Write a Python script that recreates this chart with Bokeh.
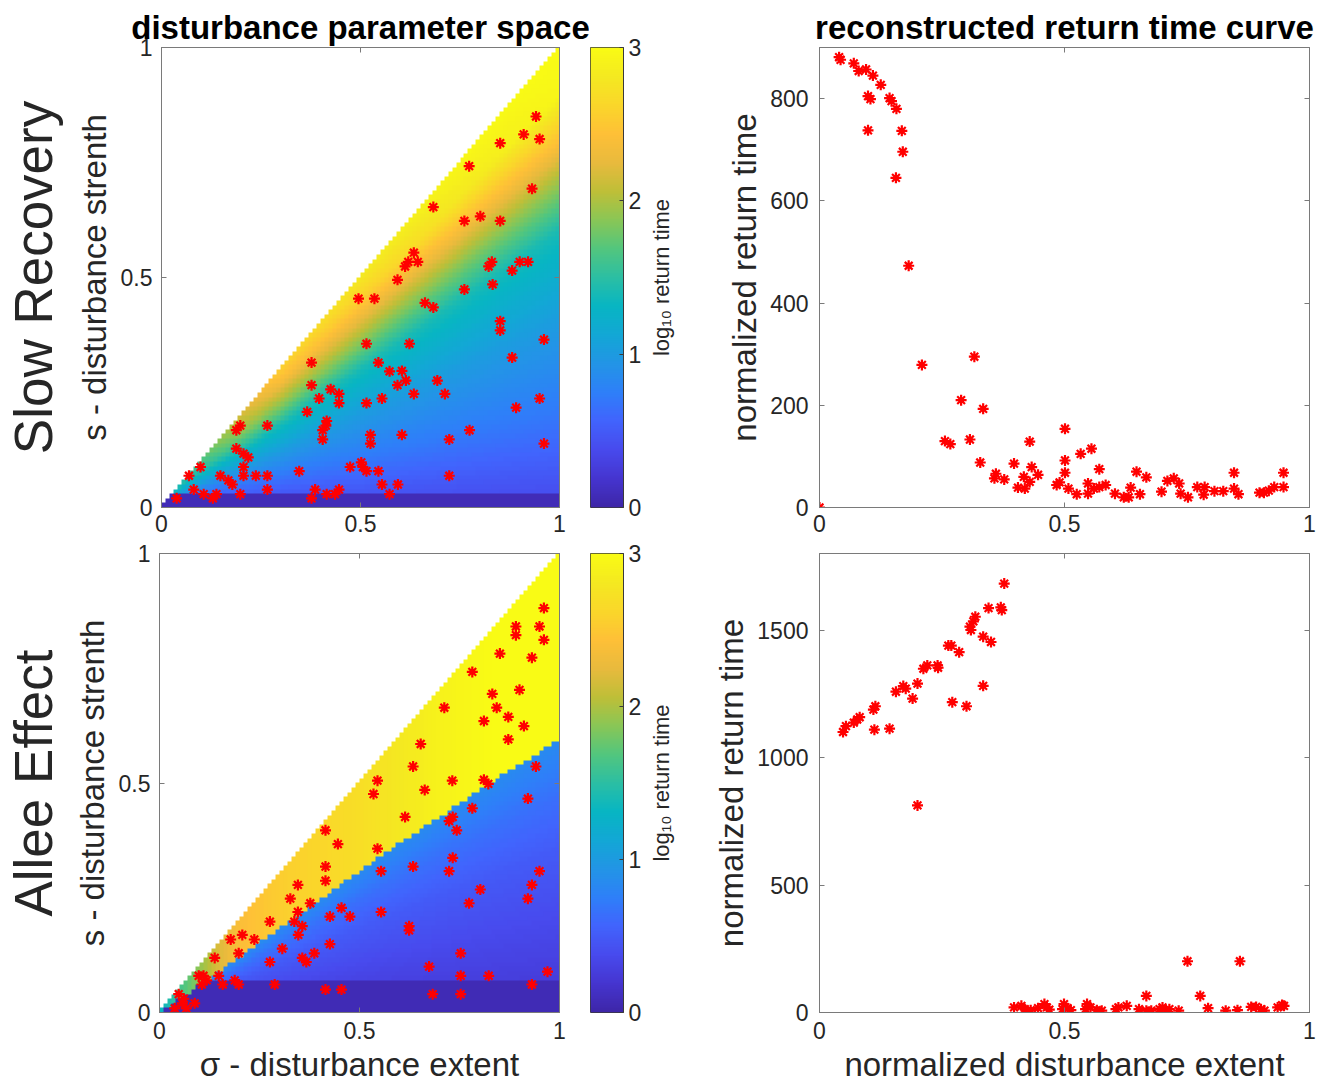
import numpy as np
from bokeh.plotting import figure
from bokeh.models import LinearColorMapper, LinearAxis, FixedTicker, Range1d
from bokeh.layouts import row, column
from bokeh.embed import file_html
from bokeh.resources import INLINE

# ---------------- data ----------------
# Slow Recovery: sampled disturbances (sigma, s)
SR_SIGMA_PTS = [0.941, 0.910, 0.950, 0.851, 0.773, 0.931, 0.683, 0.761, 0.801, 0.851, 0.634, 0.620, 0.644, 0.612, 0.830, 0.822, 0.900, 0.921, 0.881, 0.593,
                0.761, 0.832, 0.495, 0.535, 0.662, 0.683, 0.851, 0.851, 0.961, 0.515, 0.623, 0.881, 0.377, 0.545, 0.573, 0.604, 0.614, 0.593, 0.693, 0.377,
                0.425, 0.446, 0.396, 0.446, 0.515, 0.554, 0.634, 0.712, 0.950, 0.891, 0.366, 0.415, 0.413, 0.405, 0.405, 0.188, 0.198, 0.266, 0.525, 0.525,
                0.604, 0.723, 0.774, 0.961, 0.188, 0.206, 0.218, 0.098, 0.206, 0.069, 0.148, 0.168, 0.178, 0.206, 0.237, 0.266, 0.266, 0.346, 0.474, 0.502,
                0.506, 0.515, 0.545, 0.723, 0.554, 0.594, 0.573, 0.081, 0.106, 0.129, 0.138, 0.038, 0.198, 0.386, 0.377, 0.415, 0.436, 0.446]
SR_S_PTS = [0.850, 0.811, 0.801, 0.792, 0.742, 0.693, 0.653, 0.623, 0.633, 0.623, 0.554, 0.534, 0.534, 0.524, 0.534, 0.524, 0.534, 0.534, 0.515, 0.495,
            0.474, 0.485, 0.454, 0.454, 0.445, 0.435, 0.405, 0.385, 0.365, 0.356, 0.356, 0.326, 0.315, 0.315, 0.296, 0.297, 0.276, 0.266, 0.276, 0.266,
            0.257, 0.247, 0.237, 0.227, 0.227, 0.237, 0.247, 0.247, 0.237, 0.217, 0.208, 0.188, 0.178, 0.168, 0.148, 0.168, 0.178, 0.178, 0.158, 0.139,
            0.158, 0.148, 0.168, 0.139, 0.128, 0.117, 0.109, 0.088, 0.088, 0.069, 0.069, 0.059, 0.050, 0.069, 0.069, 0.069, 0.039, 0.079, 0.088, 0.098,
            0.088, 0.079, 0.079, 0.069, 0.050, 0.050, 0.029, 0.039, 0.029, 0.020, 0.029, 0.020, 0.029, 0.039, 0.020, 0.029, 0.029, 0.039]

# Slow Recovery: reconstructed return time curve
SR_EXTENT = [0.040, 0.043, 0.070, 0.080, 0.095, 0.109, 0.125, 0.099, 0.104, 0.143, 0.147, 0.157, 0.099, 0.168, 0.170, 0.156, 0.182, 0.0, 0.209, 0.316,
             0.289, 0.334, 0.256, 0.267, 0.307, 0.429, 0.501, 0.328, 0.360, 0.357, 0.377, 0.397, 0.417, 0.405, 0.419, 0.429, 0.433, 0.446, 0.484, 0.490,
             0.501, 0.501, 0.508, 0.525, 0.533, 0.555, 0.571, 0.548, 0.548, 0.560, 0.571, 0.584, 0.603, 0.621, 0.631, 0.635, 0.647, 0.654, 0.667, 0.698,
             0.710, 0.723, 0.734, 0.737, 0.752, 0.771, 0.786, 0.784, 0.806, 0.824, 0.846, 0.846, 0.855, 0.898, 0.907, 0.917, 0.928, 0.947, 0.947]
SR_RETURN = [881, 876, 869, 854, 857, 845, 827, 805, 799, 801, 795, 780, 738, 737, 696, 645, 473, 0, 279, 295,
             210, 193, 130, 124, 133, 129, 154, 88, 66, 57, 55, 86, 60, 39, 37, 50, 79, 64, 44, 49,
             68, 92, 37, 26, 105, 115, 75, 47, 27, 37, 40, 44, 27, 20, 20, 39, 70, 26, 59, 31,
             52, 57, 47, 27, 20, 40, 40, 25, 32, 32, 68, 37, 26, 29, 29, 33, 40, 40, 68]

# Allee Effect: sampled disturbances (sigma, s)
AE_SIGMA_PTS = [0.961, 0.891, 0.950, 0.891, 0.961, 0.851, 0.931, 0.782, 0.900, 0.832, 0.843, 0.712, 0.872, 0.811, 0.911, 0.872, 0.653, 0.941, 0.634, 0.545,
                0.732, 0.811, 0.822, 0.535, 0.663, 0.921, 0.782, 0.614, 0.733, 0.724, 0.743, 0.415, 0.446, 0.545, 0.733, 0.415, 0.554, 0.634, 0.724, 0.950,
                0.415, 0.346, 0.931, 0.802, 0.327, 0.377, 0.774, 0.921, 0.346, 0.455, 0.554, 0.426, 0.476, 0.276, 0.337, 0.357, 0.347, 0.624, 0.624, 0.178,
                0.207, 0.237, 0.198, 0.307, 0.387, 0.426, 0.138, 0.276, 0.357, 0.367, 0.753, 0.674, 0.753, 0.823, 0.970, 0.931, 0.683, 0.753, 0.415, 0.455,
                0.288, 0.098, 0.110, 0.118, 0.106, 0.148, 0.158, 0.188, 0.198, 0.048, 0.061, 0.057, 0.088, 0.038, 0.067]
AE_S_PTS = [0.881, 0.841, 0.841, 0.822, 0.812, 0.782, 0.773, 0.742, 0.703, 0.694, 0.664, 0.664, 0.644, 0.635, 0.624, 0.595, 0.585, 0.536, 0.536, 0.505,
            0.505, 0.507, 0.498, 0.476, 0.485, 0.466, 0.445, 0.426, 0.426, 0.417, 0.397, 0.397, 0.367, 0.357, 0.337, 0.318, 0.308, 0.318, 0.308, 0.308,
            0.287, 0.278, 0.278, 0.268, 0.248, 0.238, 0.238, 0.248, 0.219, 0.228, 0.219, 0.209, 0.209, 0.198, 0.198, 0.188, 0.169, 0.188, 0.179, 0.159,
            0.169, 0.159, 0.129, 0.139, 0.129, 0.149, 0.119, 0.110, 0.119, 0.110, 0.129, 0.100, 0.080, 0.080, 0.089, 0.061, 0.040, 0.040, 0.050, 0.050,
            0.061, 0.080, 0.080, 0.070, 0.061, 0.080, 0.061, 0.070, 0.061, 0.040, 0.030, 0.020, 0.020, 0.009, 0.009]

# Allee Effect: reconstructed return time curve
AE_EXTENT = [0.377, 0.345, 0.370, 0.372, 0.318, 0.314, 0.307, 0.309, 0.334, 0.350, 0.263, 0.269, 0.285, 0.212, 0.220, 0.241, 0.242, 0.200, 0.171, 0.176,
             0.156, 0.190, 0.334, 0.271, 0.300, 0.114, 0.110, 0.082, 0.077, 0.070, 0.054, 0.048, 0.112, 0.143, 0.200, 0.751, 0.858, 0.667, 0.777,
             0.397, 0.412, 0.419, 0.431, 0.446, 0.459, 0.464, 0.469, 0.496, 0.499, 0.506, 0.513, 0.543, 0.546, 0.553, 0.566, 0.576, 0.605, 0.610, 0.627,
             0.652, 0.667, 0.677, 0.694, 0.700, 0.707, 0.714, 0.733, 0.793, 0.829, 0.853, 0.881, 0.891, 0.901, 0.908, 0.935, 0.944, 0.948]
AE_RETURN = [1682, 1586, 1589, 1578, 1552, 1534, 1513, 1500, 1474, 1453, 1439, 1439, 1413, 1348, 1361, 1361, 1352, 1290, 1280, 1270,
             1258, 1231, 1281, 1217, 1201, 1201, 1188, 1158, 1149, 1137, 1123, 1100, 1109, 1113, 812, 201, 201, 65, 65,
             20, 26, 13, 9, 17, 33, 20, 11, 13, 33, 17, 9, 13, 33, 20, 9, 7, 13, 20, 26,
             13, 7, 7, 13, 20, 7, 13, 7, 17, 7, 9, 22, 22, 13, 7, 20, 29, 26]

# log10 return time field, Slow Recovery: table over sigma (rows) and s/sigma (columns)
SR_SIGMA = [0.0, 0.1, 0.2, 0.3, 0.5, 0.75, 1.0]
SR_RATIO = [0.0, 0.2, 0.4, 0.6, 0.7, 0.8, 0.9, 1.0]
SR_LOGT = [[0.30, 0.45, 0.60, 0.80, 0.90, 1.00, 1.10, 1.20],
           [0.30, 0.50, 0.80, 1.15, 1.30, 1.45, 1.55, 1.65],
           [0.30, 0.60, 0.95, 1.35, 1.60, 1.85, 2.00, 2.15],
           [0.30, 0.65, 1.00, 1.40, 1.75, 2.05, 2.35, 2.55],
           [0.35, 0.70, 1.00, 1.40, 1.80, 2.20, 2.55, 2.80],
           [0.35, 0.70, 1.00, 1.40, 1.85, 2.35, 2.80, 2.95],
           [0.35, 0.70, 1.00, 1.40, 1.90, 2.45, 2.95, 3.00]]
SR_DARK_S = 0.035
SR_DARK_V = 0.08

# log10 return time field, Allee Effect
AE_BND_SIGMA = [0.0, 0.15, 0.4, 0.56, 0.84, 1.0]
AE_BND_S = [0.0, 0.09, 0.245, 0.345, 0.507, 0.595]
AE_HIGH_SIGMA = [0.0, 0.05, 0.1, 0.15, 0.2, 0.3, 0.5, 0.7, 0.85, 1.0]
AE_HIGH_V = [1.3, 1.6, 1.9, 2.2, 2.4, 2.55, 2.7, 2.9, 3.0, 3.0]
AE_LOW_Q = [0.0, 0.3, 0.6, 0.8, 1.0]
AE_LOW_V = [0.2, 0.35, 0.5, 0.65, 0.85]
AE_DARK_S = 0.068
AE_DARK_V = 0.06

X_TICKS = [0, 0.5, 1]
X_LABELS = ["0", "0.5", "1"]
SR_Y_TICKS = [0, 200, 400, 600, 800]
AE_Y_TICKS = [0, 500, 1000, 1500]
CB_TICKS = [0, 1, 2, 3]

# ---------------- styling ----------------
FONT = "Liberation Sans"
AX = "#7a7a7a"
TXT = "#262626"
TICK_PX = "23px"
LABEL_PX = "33px"
PARULA_ANCHORS = [(0.2422, 0.1504, 0.6603), (0.2717, 0.2084, 0.8162), (0.2810, 0.2926, 0.9310),
                  (0.2551, 0.3904, 0.9926), (0.1802, 0.5005, 0.9741), (0.1356, 0.5834, 0.9013),
                  (0.0735, 0.6564, 0.8360), (0.0278, 0.7118, 0.7637), (0.1709, 0.7472, 0.6390),
                  (0.3229, 0.7757, 0.4937), (0.5376, 0.7778, 0.3369), (0.7466, 0.7483, 0.2180),
                  (0.9105, 0.7289, 0.2393), (0.9961, 0.7515, 0.2163), (0.9812, 0.8411, 0.1659),
                  (0.9578, 0.9136, 0.1275), (0.9769, 0.9839, 0.0805)]


def parula(n=256):
    a = np.array(PARULA_ANCHORS)
    pos = np.linspace(0, 1, len(a))
    t = np.linspace(0, 1, n)
    cols = []
    for k in range(n):
        rgb = [np.interp(t[k], pos, a[:, c]) for c in range(3)]
        cols.append("#%02x%02x%02x" % tuple(int(round(v * 255)) for v in rgb))
    return cols


MAPPER = LinearColorMapper(palette=parula(), low=0, high=3, nan_color="rgba(0,0,0,0)")

# ---------------- fields ----------------
N = 100
cent = (np.arange(N) + 0.5) / N
S, SIG = np.meshgrid(cent, cent, indexing="ij")


def sr_field():
    R = S / SIG
    rows = np.array([np.interp(R, SR_RATIO, r) for r in SR_LOGT])
    sig = np.array(SR_SIGMA)
    j = np.clip(np.searchsorted(sig, SIG, side="right") - 1, 0, len(sig) - 2)
    t = (SIG - sig[j]) / (sig[j + 1] - sig[j])
    lo = np.take_along_axis(rows, j[None], 0)[0]
    hi = np.take_along_axis(rows, (j + 1)[None], 0)[0]
    V = lo * (1 - t) + hi * t
    V[S < SR_DARK_S] = SR_DARK_V
    V[S > SIG + 1e-9] = np.nan
    return V


def ae_field():
    sb = np.interp(SIG, AE_BND_SIGMA, AE_BND_S)
    high = S >= sb
    vh = np.interp(SIG, AE_HIGH_SIGMA, AE_HIGH_V)
    vl = np.interp(S / sb, AE_LOW_Q, AE_LOW_V)
    vl = np.where(S < AE_DARK_S, AE_DARK_V, vl)
    V = np.where(high, vh, vl)
    V[S > SIG + 1e-9] = np.nan
    return V


# ---------------- layout geometry (page pixels) ----------------
# frame: (left, top, width, height, xrange, yrange)
FR_TL = (157, 47, 402, 460, (0, 1), (0, 1))
FR_C1 = (590, 47, 33, 460, (0, 1), (0, 3))
FR_TR = (812, 47, 497, 460, (0, 1), (0, 900))
FR_BL = (157, 553, 402, 459, (0, 1), (0, 1))
FR_C2 = (590, 553, 33, 459, (0, 1), (0, 3))
FR_BR = (812, 553, 497, 459, (0, 1), (0, 1800))
ROW1 = (0, 540)
ROW2 = (540, 1089)
COL_L = (0, 589)
COL_C = (589, 645)
COL_R = (645, 1328)


def make_fig(cols, rows, fr, axes=True):
    fx, fx2 = cols
    fy, fy2 = rows
    left, top, w, h, xr, yr = fr
    kw = {}
    if not axes:
        kw = dict(x_axis_type=None, y_axis_type=None)
    p = figure(width=fx2 - fx, height=fy2 - fy, min_border_left=left - fx, min_border_right=fx2 - left - w,
               min_border_top=top - fy, min_border_bottom=fy2 - top - h,
               x_range=Range1d(*xr), y_range=Range1d(*yr),
               output_backend="svg", toolbar_location=None, tools="", **kw)
    p.grid.visible = False
    p.background_fill_color = "white"
    p.border_fill_color = "white"
    p.outline_line_color = AX
    return p


def style_axis(ax, ticks, labels, show=True, standoff=8):
    ax.ticker = FixedTicker(ticks=ticks)
    ax.major_label_overrides = {t: l for t, l in zip(ticks, labels)}
    ax.minor_tick_line_color = None
    ax.major_tick_in = 5
    ax.major_tick_out = 0
    ax.axis_line_color = AX
    ax.major_tick_line_color = AX
    ax.major_label_text_font = FONT
    if show:
        ax.major_label_text_color = TXT
        ax.major_label_text_font_size = TICK_PX
        ax.major_label_standoff = standoff
    else:
        ax.major_label_text_color = None
        ax.major_label_text_font_size = "1px"
        ax.major_label_standoff = 0


def set_label(ax, text, size=LABEL_PX, standoff=4):
    ax.axis_label = text
    ax.axis_label_text_font = FONT
    ax.axis_label_text_font_size = size
    ax.axis_label_text_font_style = "normal"
    ax.axis_label_text_color = TXT
    ax.axis_label_standoff = standoff


def label_axis(p, text, size, standoff):
    """An extra left axis that only carries a label."""
    ax = LinearAxis(ticker=FixedTicker(ticks=[]))
    ax.axis_line_color = None
    ax.major_tick_line_color = None
    ax.minor_tick_line_color = None
    ax.major_label_standoff = 0
    ax.major_label_text_font_size = "1px"
    set_label(ax, text, size, standoff)
    p.add_layout(ax, "left")
    return ax


def full_axes(p, xt, xl, yt, yl, xstand, ystand):
    bottom = p.below[0]
    left = p.left[0]
    style_axis(bottom, xt, xl, True, xstand)
    style_axis(left, yt, yl, True, ystand)
    top = LinearAxis()
    style_axis(top, xt, xl, False)
    p.add_layout(top, "above")
    right = LinearAxis()
    style_axis(right, yt, yl, False)
    p.add_layout(right, "right")
    return bottom, left


def set_title(p, text, offset=0):
    p.title.text = text
    p.title.text_font = FONT
    p.title.text_font_size = LABEL_PX
    p.title.text_font_style = "bold"
    p.title.text_color = "black"
    p.title.align = "center"
    p.title.standoff = 3
    p.title.offset = offset


def heat_panel(cols, rows, fr, field, sig_pts, s_pts, xstand):
    p = make_fig(cols, rows, fr)
    p.image(image=[field], x=0, y=0, dw=1, dh=1, color_mapper=MAPPER)
    p.scatter(sig_pts, s_pts, marker="asterisk", size=11, line_color="red", line_width=2.2)
    axes = full_axes(p, X_TICKS, X_LABELS, X_TICKS, X_LABELS, xstand, 9)
    return p, axes


def curve_panel(cols, rows, fr, xs, ys, yticks, xstand):
    p = make_fig(cols, rows, fr)
    p.scatter(xs, ys, marker="asterisk", size=11, line_color="red", line_width=2.2)
    axes = full_axes(p, X_TICKS, X_LABELS, yticks, [str(t) for t in yticks], xstand, 11)
    return p, axes


def cbar_panel(cols, rows, fr):
    p = make_fig(cols, rows, fr, axes=False)
    grad = np.linspace(0, 3, 256).reshape(256, 1)
    p.image(image=[grad], x=0, y=0, dw=1, dh=3, color_mapper=MAPPER)
    p.outline_line_color = "#3a3a3a"
    ax = LinearAxis()
    style_axis(ax, CB_TICKS, [str(t) for t in CB_TICKS], True, 5)
    ax.axis_line_color = "#3a3a3a"
    ax.major_tick_line_color = "#3a3a3a"
    ax.major_tick_in = 4
    p.add_layout(ax, "right")
    return p


tl, (tl_x, tl_y) = heat_panel(COL_L, ROW1, FR_TL, sr_field(), SR_SIGMA_PTS, SR_S_PTS, 7)
c1 = cbar_panel(COL_C, ROW1, FR_C1)
tr, (tr_x, tr_y) = curve_panel(COL_R, ROW1, FR_TR, SR_EXTENT, SR_RETURN, SR_Y_TICKS, 7)
bl, (bl_x, bl_y) = heat_panel(COL_L, ROW2, FR_BL, ae_field(), AE_SIGMA_PTS, AE_S_PTS, 9)
c2 = cbar_panel(COL_C, ROW2, FR_C2)
br, (br_x, br_y) = curve_panel(COL_R, ROW2, FR_BR, AE_EXTENT, AE_RETURN, AE_Y_TICKS, 9)

set_title(tl, "disturbance parameter space", -3)
set_title(tr, "reconstructed return time curve", -2)

set_label(tl_y, "s - disturbance strenth", standoff=5)
label_axis(tl, "Slow Recovery", "53px", 10)
set_label(bl_y, "s - disturbance strenth", standoff=5)
label_axis(bl, "Allee Effect", "53px", 8)
set_label(bl_x, "\u03c3 - disturbance extent", standoff=4)

set_label(tr_y, "normalized return time", standoff=4)
label_axis(tr, "log\u2081\u2080 return time", "22px", 50)
set_label(br_y, "normalized return time", standoff=4)
label_axis(br, "log\u2081\u2080 return time", "22px", 37)
set_label(br_x, "normalized disturbance extent", standoff=4)

layout = column(row(tl, c1, tr), row(bl, c2, br))
open("out.html", "w").write(file_html(layout, INLINE))
